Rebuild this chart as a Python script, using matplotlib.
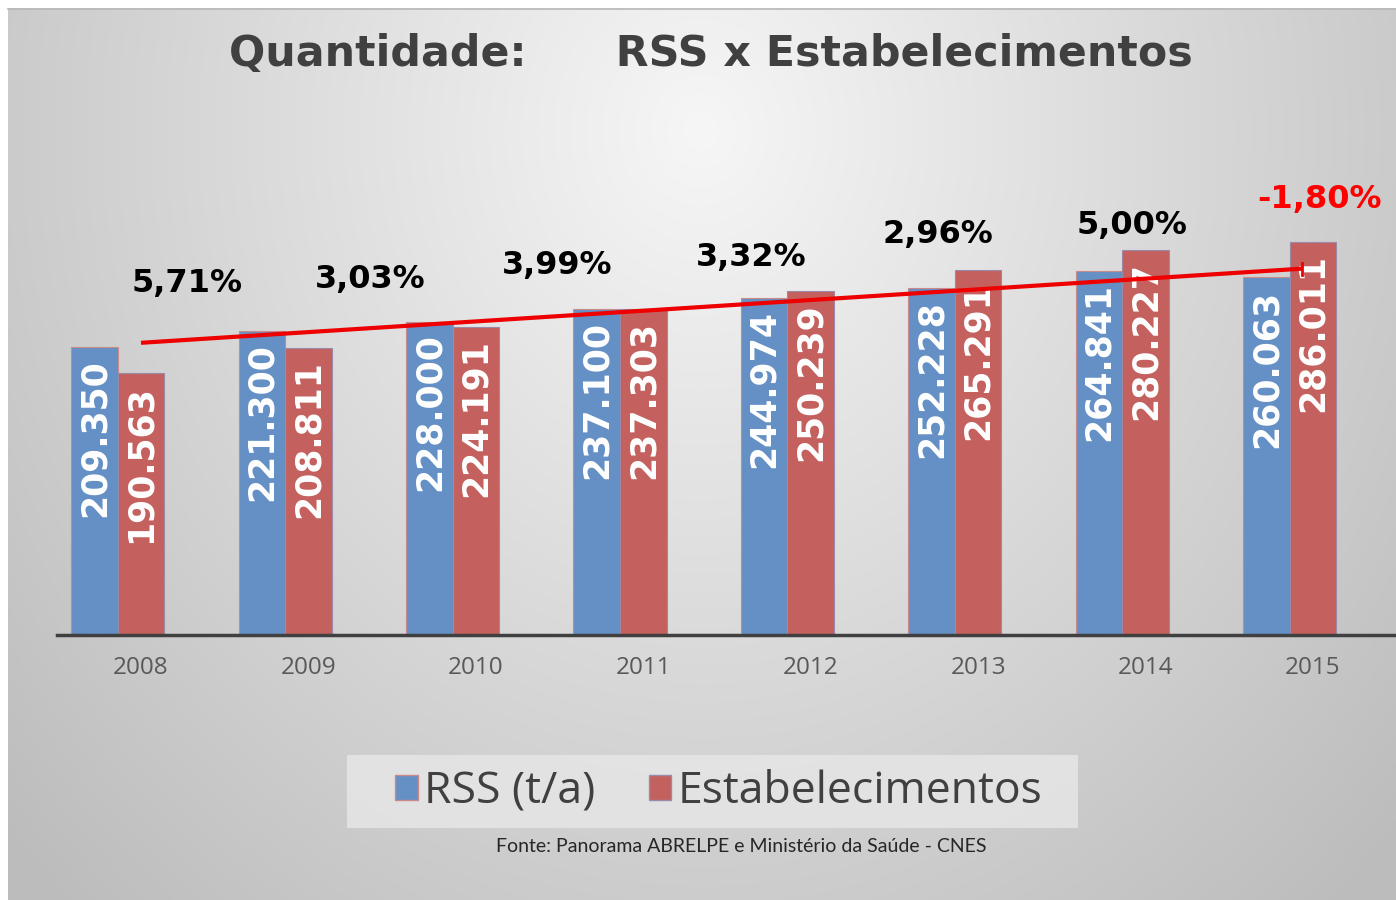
import numpy as np
import matplotlib
matplotlib.use("Agg")
import matplotlib.pyplot as plt
from matplotlib.patches import Patch, Rectangle

# ---- data ----
years = ["2008", "2009", "2010", "2011", "2012", "2013", "2014", "2015"]
rss = [209350, 221300, 228000, 237100, 244974, 252228, 264841, 260063]
estab = [190563, 208811, 224191, 237303, 250239, 265291, 280227, 286011]
growth_labels = ["5,71%", "3,03%", "3,99%", "3,32%", "2,96%", "5,00%", "-1,80%"]
title = "Quantidade:      RSS x Estabelecimentos"
source = "Fonte: Panorama ABRELPE e Ministério da Saúde - CNES"
legend_labels = ["RSS (t/a)", "Estabelecimentos"]

# ---- layout / style ----
W, H = 1396, 900
BLUE = "#6590c5"
RED = "#c4615e"
growth_pos = [(0.275, 255300), (1.368, 258900), (2.485, 268400), (3.644, 274200),
              (4.76, 291600), (5.918, 297500), (7.04, 316400)]
growth_colors = ["black"] * 6 + ["#ff0000"]

fig = plt.figure(figsize=(W / 100, H / 100), dpi=100)
fig.patch.set_facecolor("white")

# background gradient panel
bg = fig.add_axes([8 / W, 0, (W - 8) / W, (H - 8) / H], zorder=0)
yy, xx = np.mgrid[8:H:2, 8:W:2]
r = np.sqrt(((xx - 700) / 720.0) ** 2 + ((yy - 130) / 820.0) ** 2)
v = 0.965 - 0.175 * r
v = np.clip(v, 0.74, 1)
img = np.dstack([v, v, v])
bg.imshow(img, aspect="auto", extent=[0, 1, 0, 1], interpolation="bilinear")
bg.set_axis_off()
fig.add_artist(plt.Line2D([8 / W, 1], [1 - 8.5 / H, 1 - 8.5 / H], color="#b8b8b8", lw=1.2,
                          transform=fig.transFigure))

# main axes: x from 57.3 to 1397, y baseline 635, top at 100
left, right = 57.3, 1396.7
bottom_px, top_px = 635, 100
ax = fig.add_axes([left / W, 1 - bottom_px / H, (right - left) / W, (bottom_px - top_px) / H], zorder=2)
ax.set_facecolor("none")
ppu = 0.001375
ymax = (bottom_px - top_px) / ppu
ax.set_xlim(-0.5, len(years) - 0.5)
ax.set_ylim(0, ymax)

x = np.arange(len(years))
bw = 0.278
b1 = ax.bar(x - bw, rss, bw, color=BLUE, edgecolor="#c98a8a", linewidth=0.8)
b2 = ax.bar(x, estab, bw, color=RED, edgecolor="#9a8aa8", linewidth=0.8)

lab_fmt = lambda v: f"{v:,}".replace(",", ".")
for bars, vals in ((b1, rss), (b2, estab)):
    for rect, val in zip(bars, vals):
        ax.annotate(lab_fmt(val), (rect.get_x() + rect.get_width() / 2, rect.get_height()),
                    xytext=(0, -12), textcoords="offset pixels", rotation=90,
                    ha="center", va="top", color="white", fontsize=25,
                    fontweight="bold", family="DejaVu Sans")

# linear trend of RSS
coef = np.polyfit(x, rss, 1)
tx = np.array([0, 6.935])
ax.plot(tx, np.polyval(coef, tx), color="#ee0000", lw=3, solid_capstyle="butt", zorder=5)
ax.plot([6.935, 6.935], np.polyval(coef, 6.935) + np.array([-6, 6]) / ppu, color="#ee0000", lw=2, zorder=5)

for lab, (px, py), c in zip(growth_labels, growth_pos, growth_colors):
    ax.text(px, py, lab, ha="center", va="center", fontsize=23, fontweight="bold",
            color=c, family="DejaVu Sans")

for s in ("left", "right", "top"):
    ax.spines[s].set_visible(False)
ax.spines["bottom"].set_color("#404040")
ax.spines["bottom"].set_linewidth(2.5)
ax.set_yticks([])
ax.set_xticks(x)
ax.set_xticklabels(years, fontsize=17.5, color="#595959", family="Open Sans")
ax.tick_params(axis="x", length=0, pad=15)

# title
fig.text(711 / W, 1 - 54 / H, title, ha="center", va="center", fontsize=30.8,
         fontweight="bold", color="#404040", family="DejaVu Sans")

# legend (background box + legend entries)
fig.add_artist(Rectangle((347 / W, 1 - 828 / H), (1078 - 347) / W, (828 - 755) / H,
                         transform=fig.transFigure, facecolor="#e6e6e6", alpha=0.85,
                         edgecolor="none", zorder=2))
handles = [Patch(facecolor=BLUE, edgecolor="#c98a8a"), Patch(facecolor=RED, edgecolor="#9a8aa8")]
leg = fig.legend(handles, legend_labels, loc="center", bbox_to_anchor=(719 / W, 1 - 792 / H),
                 ncol=2, frameon=False, prop={"family": "Open Sans", "size": 32},
                 handlelength=0.5, handleheight=0.5, handletextpad=0.15, columnspacing=1.2,
                 borderpad=0.2, labelcolor="#404040")
leg.set_zorder(3)

fig.text(741 / W, 1 - 846 / H, source, ha="center", va="center", fontsize=14.0,
         color="#262626", family="Lato")

fig.savefig("out.png", dpi=100)
